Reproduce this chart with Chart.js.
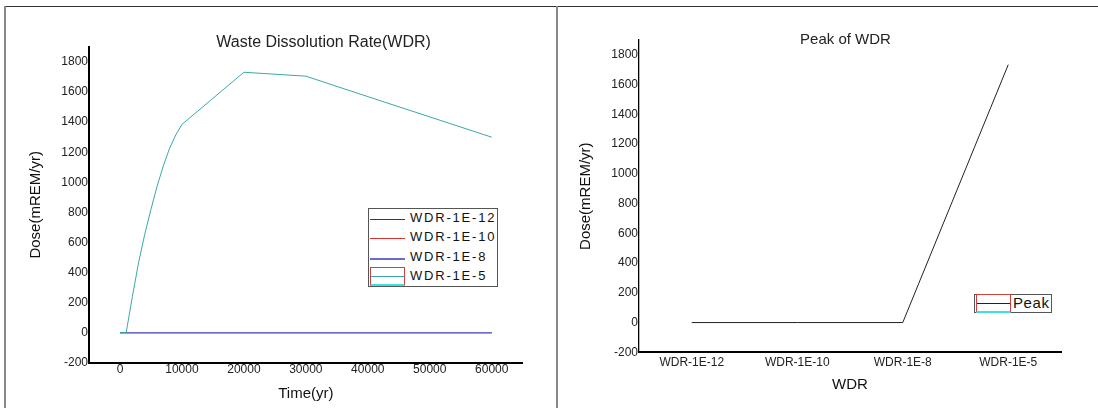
<!DOCTYPE html>
<html>
<head>
<meta charset="utf-8">
<script src="https://cdn.jsdelivr.net/npm/chart.js"></script>
<style>
  body { margin: 0; background: #fff; }
  #page { position: relative; width: 1098px; height: 408px; overflow: hidden; font-family: "Liberation Sans", Arial, sans-serif; }
  .rule { position: absolute; }
  canvas { position: absolute; top: 0; }
  .legend { position: absolute; border: 1px solid #555; background: #fff; box-sizing: border-box; }
  .legend .row { position: relative; font-size: 13px; letter-spacing: 1.8px; color: #111; white-space: nowrap; }
  .legend .sample { position: absolute; left: 1px; width: 35px; box-sizing: border-box; }
  .legend .text { position: absolute; left: 41px; }
</style>
</head>
<body>
<div id="page">
  <div class="rule" style="left:4px;top:6px;width:1094px;height:1px;background:#333"></div>
  <div class="rule" style="left:4px;top:6px;width:2px;height:402px;background:#888"></div>
  <div class="rule" style="left:556px;top:6px;width:2px;height:402px;background:#888"></div>
  <canvas id="wdrChart" width="556" height="408" style="left:0"></canvas>
  <canvas id="peakChart" width="542" height="408" style="left:556px"></canvas>
  <div id="legendL" class="legend" style="left:368px;top:208px;width:130px;height:79px"></div>
  <div id="legendR" class="legend" style="left:974px;top:294px;width:78px;height:19px"></div>
</div>

<script>
  // left chart: dose vs time for each waste dissolution rate
  const times = [0, 1000, 2000, 3000, 4000, 5000, 6000, 7000, 8000, 9000, 10000, 20000, 30000, 40000, 50000, 60000];
  const wdr1e12 = [0, 0, 0, 0, 0, 0, 0, 0, 0, 0, 0, 0, 0, 0, 0, 0];
  const wdr1e10 = [0, 0, 0, 0, 0, 0, 0, 0, 0, 0, 0, 0, 0, 0, 0, 0];
  const wdr1e8  = [0, 0, 0, 0, 0, 0, 0, 0, 0, 0, 0, 0, 0, 0, 0, 0];
  const wdr1e5  = [0, 0, 240, 465, 655, 820, 975, 1110, 1225, 1315, 1385, 1732, 1706, 1570, 1435, 1300];

  const seriesNames = ['WDR-1E-12', 'WDR-1E-10', 'WDR-1E-8', 'WDR-1E-5'];
  const seriesColors = ['#3a3a3a', '#d83030', '#6a6ad0', '#3aa8a8'];
  const seriesWidths = [1, 1, 1.5, 1];

  const xTicks = [0, 10000, 20000, 30000, 40000, 50000, 60000];
  const yTicks = [-200, 0, 200, 400, 600, 800, 1000, 1200, 1400, 1600, 1800];

  // right chart: peak dose per rate
  const wdrCategories = ['WDR-1E-12', 'WDR-1E-10', 'WDR-1E-8', 'WDR-1E-5'];
  const peakDose = [0, 0, 0, 1734];

  const FONT = '"Liberation Sans", Arial, sans-serif';

  // title drawn at a fixed spot over the plot, like the original
  const panelTitle = {
    id: 'panelTitle',
    afterDraw(chart, args, opts) {
      const ctx = chart.ctx;
      ctx.save();
      ctx.font = opts.size + 'px ' + FONT;
      ctx.fillStyle = '#222';
      ctx.textAlign = 'center';
      ctx.textBaseline = 'middle';
      ctx.fillText(opts.text, opts.x, opts.y);
      ctx.restore();
    }
  };

  function setTicks(list) {
    return scale => { scale.ticks = list.map(v => ({ value: v })); };
  }
  const plain = v => String(v);

  const allSeries = [wdr1e12, wdr1e10, wdr1e8, wdr1e5];

  new Chart(document.getElementById('wdrChart'), {
    type: 'line',
    data: {
      datasets: allSeries.map((vals, i) => ({
        label: seriesNames[i],
        data: times.map((t, j) => ({ x: t, y: vals[j] })),
        borderColor: seriesColors[i],
        borderWidth: seriesWidths[i],
        pointRadius: 0,
        fill: false,
        order: allSeries.length - i
      }))
    },
    options: {
      responsive: false,
      animation: false,
      devicePixelRatio: 1,
      layout: { padding: { left: 0, top: 47, right: 33.3, bottom: 0 } },
      plugins: {
        legend: { display: false },
        tooltip: { enabled: false },
        panelTitle: { text: 'Waste Dissolution Rate(WDR)', x: 323.6, y: 43, size: 16 }
      },
      scales: {
        x: {
          type: 'linear',
          min: -5000,
          max: 65000,
          afterBuildTicks: setTicks(xTicks),
          afterFit: s => { s.height = 45.3; },
          grid: { display: false, drawTicks: false },
          border: { display: true, color: '#000', width: 2 },
          ticks: { padding: 0, color: '#222', font: { family: FONT, size: 12 }, maxRotation: 0, callback: plain },
          title: { display: true, text: 'Time(yr)', color: '#111', font: { family: FONT, size: 15 }, padding: { top: 0, bottom: 5 } }
        },
        y: {
          min: -200,
          max: 1900,
          afterBuildTicks: setTicks(yTicks),
          afterFit: s => { s.width = 89; },
          grid: { display: false, drawTicks: false },
          border: { display: true, color: '#000', width: 2 },
          ticks: { padding: 1, color: '#222', font: { family: FONT, size: 12 }, callback: plain },
          title: { display: true, text: 'Dose(mREM/yr)', color: '#111', font: { family: FONT, size: 15 }, padding: { top: 26.6, bottom: 0 } }
        }
      }
    },
    plugins: [panelTitle]
  });

  new Chart(document.getElementById('peakChart'), {
    type: 'line',
    data: {
      labels: wdrCategories,
      datasets: [{
        label: 'Peak',
        data: peakDose,
        borderColor: '#222',
        borderWidth: 1,
        pointRadius: 0,
        fill: false
      }]
    },
    options: {
      responsive: false,
      animation: false,
      devicePixelRatio: 1,
      layout: { padding: { left: 0, top: 40, right: 37, bottom: 0 } },
      plugins: {
        legend: { display: false },
        tooltip: { enabled: false },
        panelTitle: { text: 'Peak of WDR', x: 289.5, y: 39.5, size: 15 }
      },
      scales: {
        x: {
          type: 'category',
          offset: true,
          afterFit: s => { s.height = 55.7; },
          grid: { display: false, drawTicks: false },
          border: { display: true, color: '#000', width: 2 },
          ticks: { padding: 3.5, color: '#222', font: { family: FONT, size: 12 }, maxRotation: 0 },
          title: { display: true, text: 'WDR', color: '#111', font: { family: FONT, size: 15 }, padding: { top: 0, bottom: 14 } }
        },
        y: {
          min: -200,
          max: 1900,
          afterBuildTicks: setTicks(yTicks),
          afterFit: s => { s.width = 83; },
          grid: { display: false, drawTicks: false },
          border: { display: true, color: '#000', width: 1.3 },
          ticks: { padding: 1, color: '#222', font: { family: FONT, size: 12 }, callback: plain },
          title: { display: true, text: 'Dose(mREM/yr)', color: '#111', font: { family: FONT, size: 15 }, padding: { top: 20.7, bottom: 0 } }
        }
      }
    },
    plugins: [panelTitle]
  });

  // HTML legends, boxed inside the plots
  function sampleHtml(color, width, boxed) {
    if (boxed) {
      return '<span class="sample" style="top:-10px;height:19px;border:1px solid #d04040;border-bottom:2px solid #40e0e0">' +
        '<span style="position:absolute;left:0;right:0;top:8px;border-top:1px solid ' + color + '"></span></span>';
    }
    return '<span class="sample" style="top:0;border-top:' + width + 'px solid ' + color + '"></span>';
  }

  const legendL = document.getElementById('legendL');
  seriesNames.forEach((name, i) => {
    const row = document.createElement('div');
    row.className = 'row';
    row.style.height = '19.4px';
    const last = i === seriesNames.length - 1;
    row.innerHTML = '<span style="position:absolute;left:0;top:10px;width:0">' + sampleHtml(seriesColors[i], Math.max(1, Math.round(seriesWidths[i] * 1.4)), last) + '</span>' +
      '<span class="text" style="top:1px">' + name + '</span>';
    legendL.appendChild(row);
  });

  const legendR = document.getElementById('legendR');
  const rowR = document.createElement('div');
  rowR.className = 'row';
  rowR.style.height = '17px';
  rowR.style.fontSize = '15px';
  rowR.style.letterSpacing = '0.6px';
  rowR.innerHTML = '<span style="position:absolute;left:0;top:9px;width:0">' + sampleHtml('#222', 1, true) + '</span>' +
    '<span class="text" style="left:38px;top:-1px">Peak</span>';
  legendR.appendChild(rowR);
</script>
</body>
</html>
